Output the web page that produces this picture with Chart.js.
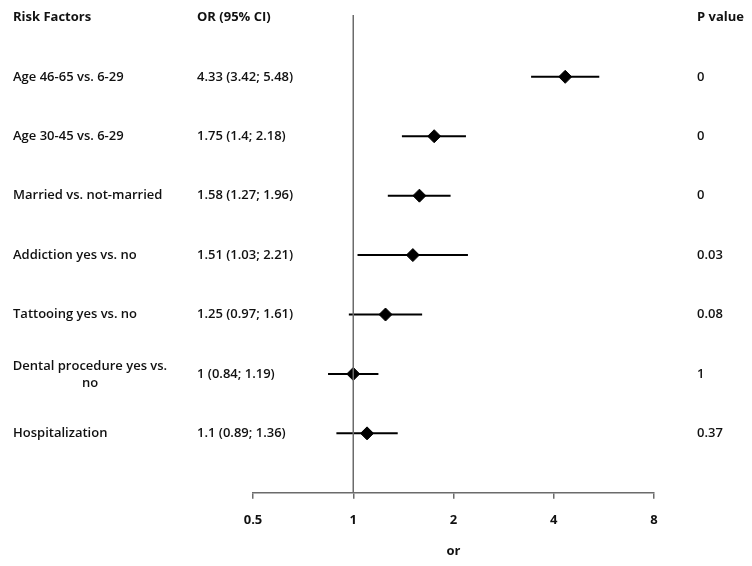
<!DOCTYPE html>
<html>
<head>
<meta charset="utf-8">
<script src="https://cdn.jsdelivr.net/npm/chart.js@4"></script>
<style>
  html, body { margin: 0; padding: 0; background: #fff; }
  #wrap { width: 752px; height: 566px; }
</style>
</head>
<body>
<div id="wrap"><canvas id="forest"></canvas></div>
<script>
var factors = ['Age 46-65 vs. 6-29', 'Age 30-45 vs. 6-29', 'Married vs. not-married',
  'Addiction yes vs. no', 'Tattooing yes vs. no', 'Dental procedure yes vs.\nno', 'Hospitalization'];
var orValues = [4.33, 1.75, 1.58, 1.51, 1.25, 1, 1.1];
var ciLow = [3.42, 1.4, 1.27, 1.03, 0.97, 0.84, 0.89];
var ciHigh = [5.48, 2.18, 1.96, 2.21, 1.61, 1.19, 1.36];
var orLabels = ['4.33 (3.42; 5.48)', '1.75 (1.4; 2.18)', '1.58 (1.27; 1.96)', '1.51 (1.03; 2.21)',
  '1.25 (0.97; 1.61)', '1 (0.84; 1.19)', '1.1 (0.89; 1.36)'];
var pValues = ['0', '0', '0', '0.03', '0.08', '1', '0.37'];
var xTicks = [0.5, 1, 2, 4, 8];

var FONT = '"Open Sans", sans-serif';

var datasets = [];
// reference line at OR = 1
datasets.push({
  type: 'line',
  data: [{x: 1, y: -0.04}, {x: 1, y: 8}],
  borderColor: '#6b6b6b',
  borderWidth: 1.5,
  pointRadius: 0
});
// confidence interval bars
factors.forEach(function(f, i) {
  datasets.push({
    type: 'line',
    data: [{x: ciLow[i], y: i + 1}, {x: ciHigh[i], y: i + 1}],
    borderColor: '#000',
    borderWidth: 2,
    pointRadius: 0
  });
});
// point estimates
datasets.push({
  type: 'scatter',
  data: orValues.map(function(v, i) { return {x: v, y: i + 1}; }),
  pointStyle: 'rectRot',
  pointRadius: 6.5,
  backgroundColor: '#000',
  borderColor: '#000'
});

var textColumns = {
  id: 'textColumns',
  afterDraw: function(chart) {
    var ctx = chart.ctx;
    var y = chart.scales.y;
    ctx.save();
    ctx.fillStyle = '#111';
    ctx.textBaseline = 'middle';
    ctx.font = 'bold 13px ' + FONT;
    ctx.textAlign = 'left';
    var hy = y.getPixelForValue(0);
    ctx.fillText('Risk Factors', 13, hy);
    ctx.fillText('OR (95% CI)', 197, hy);
    ctx.fillText('P value', 697, hy);
    ctx.font = '600 13px ' + FONT;
    factors.forEach(function(f, i) {
      var py = y.getPixelForValue(i + 1);
      var lines = f.split('\n');
      if (lines.length > 1) {
        ctx.textAlign = 'center';
        ctx.fillText(lines[0], 90, py - 8);
        ctx.fillText(lines[1], 90, py + 9);
      } else {
        ctx.textAlign = 'left';
        ctx.fillText(f, 13, py);
      }
      ctx.textAlign = 'left';
      ctx.fillText(orLabels[i], 197, py);
      ctx.fillText(pValues[i], 697, py);
    });
    ctx.restore();
  }
};

new Chart(document.getElementById('forest'), {
  data: { datasets: datasets },
  options: {
    responsive: true,
    maintainAspectRatio: false,
    animation: false,
    layout: { padding: { left: 253, right: 98, top: 15, bottom: 7 } },
    plugins: { legend: { display: false }, tooltip: { enabled: false } },
    scales: {
      x: {
        type: 'logarithmic',
        min: 0.5,
        max: 8,
        afterBuildTicks: function(axis) {
          axis.ticks = xTicks.map(function(v) { return {value: v}; });
        },
        ticks: {
          color: '#111',
          font: { family: FONT, size: 13, weight: 'bold' },
          padding: 14,
          maxRotation: 0,
          callback: function(v) { return String(v); }
        },
        grid: { drawOnChartArea: false, color: '#6b6b6b', tickLength: 6, lineWidth: 1.5 },
        border: { color: '#6b6b6b', width: 1.5 },
        title: {
          display: true,
          text: 'or',
          color: '#111',
          font: { family: FONT, size: 13, weight: 'bold' },
          padding: { top: 1, bottom: 0 }
        }
      },
      y: {
        type: 'linear',
        reverse: true,
        min: -0.04,
        max: 8,
        display: false
      }
    }
  },
  plugins: [textColumns]
});
</script>
</body>
</html>
